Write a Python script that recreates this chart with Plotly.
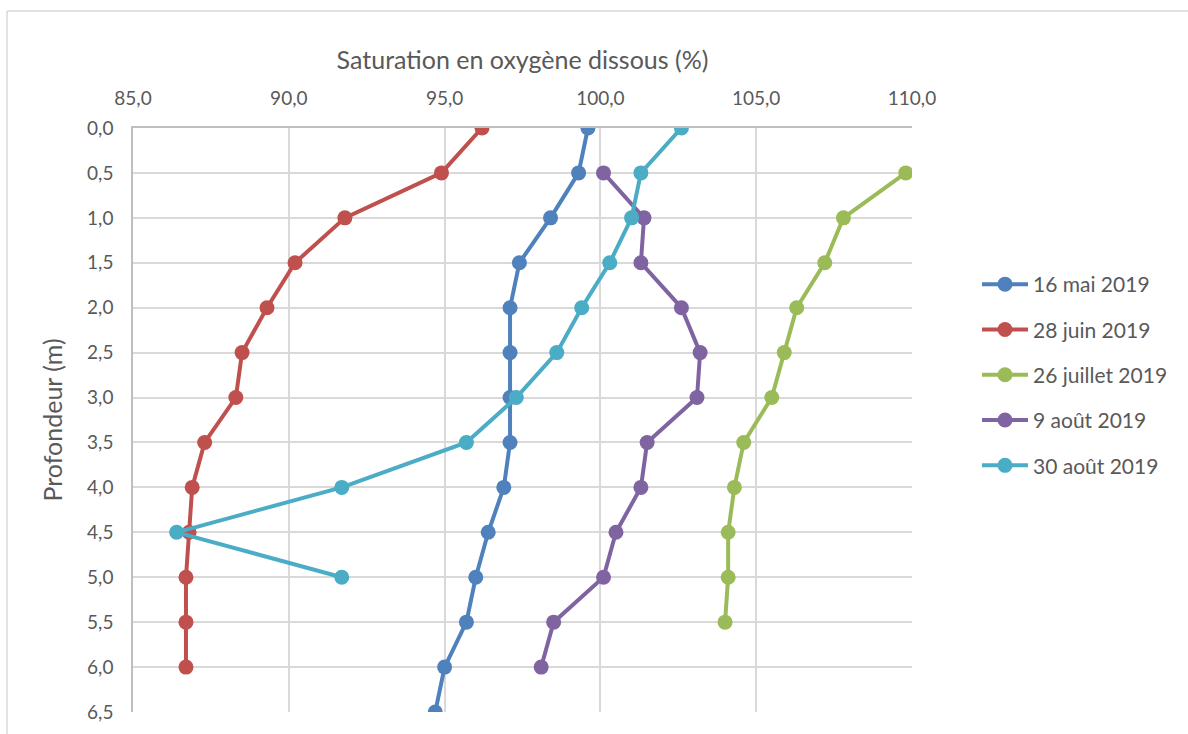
import plotly.graph_objects as go

depth = [0.0, 0.5, 1.0, 1.5, 2.0, 2.5, 3.0, 3.5, 4.0, 4.5, 5.0, 5.5, 6.0, 6.5]

mai16 = [99.6, 99.3, 98.4, 97.4, 97.1, 97.1, 97.1, 97.1, 96.9, 96.4, 96.0, 95.7, 95.0, 94.7]
juin28 = [96.2, 94.9, 91.8, 90.2, 89.3, 88.5, 88.3, 87.3, 86.9, 86.8, 86.7, 86.7, 86.7]
juil26_depth = [0.5, 1.0, 1.5, 2.0, 2.5, 3.0, 3.5, 4.0, 4.5, 5.0, 5.5]
juil26 = [109.8, 107.8, 107.2, 106.3, 105.9, 105.5, 104.6, 104.3, 104.1, 104.1, 104.0]
aout9_depth = [0.5, 1.0, 1.5, 2.0, 2.5, 3.0, 3.5, 4.0, 4.5, 5.0, 5.5, 6.0]
aout9 = [100.1, 101.4, 101.3, 102.6, 103.2, 103.1, 101.5, 101.3, 100.5, 100.1, 98.5, 98.1]
aout30 = [102.6, 101.3, 101.0, 100.3, 99.4, 98.6, 97.3, 95.7, 91.7, 86.4, 91.7]

series = [
    ("16 mai 2019", mai16, depth[:len(mai16)], "#4F81BD"),
    ("28 juin 2019", juin28, depth[:len(juin28)], "#C0504D"),
    ("26 juillet 2019", juil26, juil26_depth, "#9BBB59"),
    ("9 août 2019", aout9, aout9_depth, "#8064A2"),
    ("30 août 2019", aout30, depth[:len(aout30)], "#4BACC6"),
]

FONT = "Lato"
TXT = "#595959"

fig = go.Figure()
for name, xs, ys, col in series:
    fig.add_trace(go.Scatter(
        x=xs, y=ys, name=name, mode="lines+markers",
        line=dict(color=col, width=4),
        marker=dict(color=col, size=15),
        legendgroup=name,
    ))

W, H = 1188, 734
L, R, T, B = 133, 912, 128, 712
pw, ph = R - L, B - T

def px(x):
    return (x - L) / pw

def py(y):
    return (B - y) / ph

fig.update_layout(
    width=W, height=H,
    margin=dict(l=L, r=W - R, t=T, b=H - B),
    paper_bgcolor="white", plot_bgcolor="white",
    separators=", ",
    font=dict(family=FONT, color=TXT, size=19),
    showlegend=True,
    legend=dict(
        x=px(977), y=py(375), xanchor="left", yanchor="middle",
        font=dict(size=21, color=TXT, family=FONT),
        traceorder="grouped", tracegroupgap=15,
        itemwidth=46,
        bgcolor="rgba(0,0,0,0)",
    ),
    shapes=[
        dict(type="line", xref="paper", yref="paper",
             x0=px(7), x1=px(1200), y0=py(11), y1=py(11),
             line=dict(color="#d9d9d9", width=1.5), layer="below"),
        dict(type="line", xref="paper", yref="paper",
             x0=px(7), x1=px(7), y0=py(11), y1=py(740),
             line=dict(color="#d9d9d9", width=1.5), layer="below"),
    ],
)

fig.update_xaxes(
    side="top", range=[85, 110], dtick=5, tick0=85, tickformat=".1f",
    showgrid=True, gridcolor="#d9d9d9", gridwidth=1.5,
    showline=True, linecolor="#bfbfbf", linewidth=1.5,
    zeroline=False, ticks="", ticklabelstandoff=14,
    tickfont=dict(size=19, color=TXT, family=FONT),
    title=dict(text="Saturation en oxygène dissous (%)",
               font=dict(size=25, color=TXT, family=FONT), standoff=9),
    mirror=False,
)
fig.update_yaxes(
    range=[6.5, 0], dtick=0.5, tick0=0, tickformat=".1f",
    showgrid=True, gridcolor="#d9d9d9", gridwidth=1.5,
    showline=True, linecolor="#bfbfbf", linewidth=1.5,
    zeroline=False, ticks="", ticklabelstandoff=14,
    tickfont=dict(size=19, color=TXT, family=FONT),
    title=dict(text="Profondeur (m)",
               font=dict(size=25, color=TXT, family=FONT), standoff=17),
)

fig.write_html("out.html")
